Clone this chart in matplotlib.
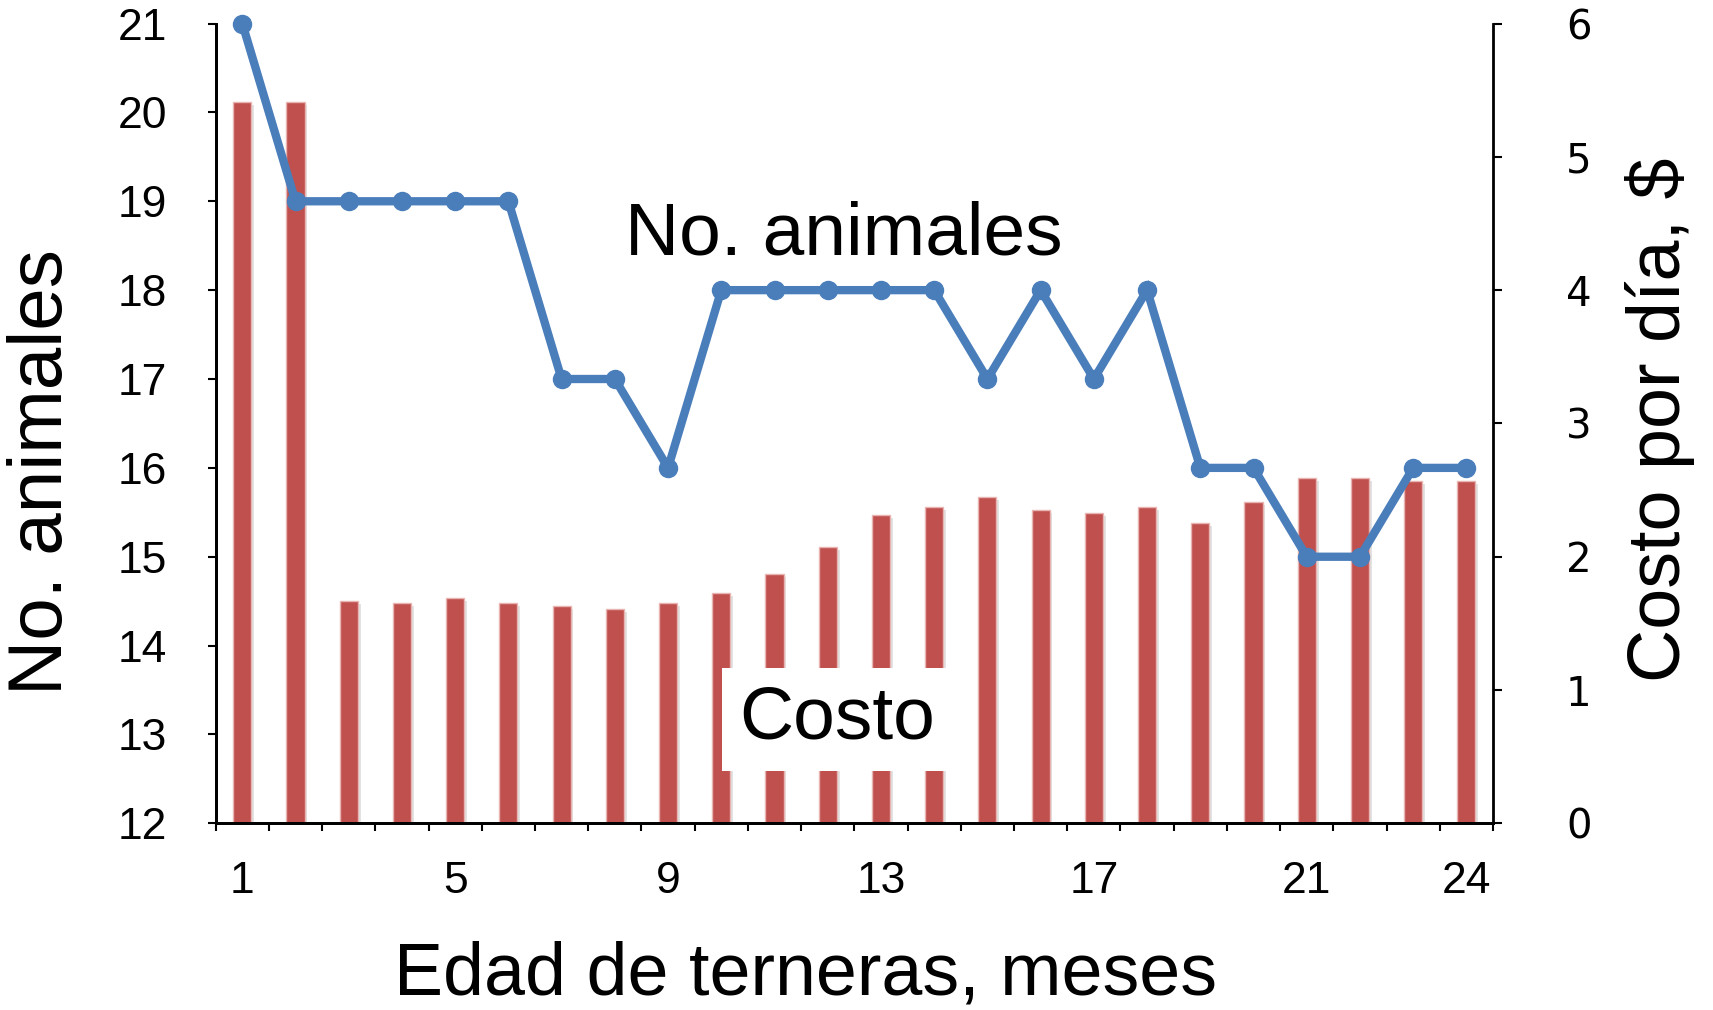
import numpy as np
import matplotlib
matplotlib.use("Agg")
import matplotlib.pyplot as plt
import matplotlib.patheffects as pe

# datos
meses = np.arange(1, 25)
animales = [21, 19, 19, 19, 19, 19, 17, 17, 16, 18, 18, 18,
            18, 18, 17, 18, 17, 18, 16, 16, 15, 15, 16, 16]
costo = [5.41, 5.41, 1.67, 1.65, 1.69, 1.65, 1.63, 1.61, 1.65, 1.73, 1.87, 2.07,
         2.31, 2.37, 2.45, 2.35, 2.33, 2.37, 2.25, 2.41, 2.59, 2.59, 2.57, 2.57]
xt = [1, 5, 9, 13, 17, 21, 24]

plt.rcParams['font.family'] = ['Liberation Sans', 'DejaVu Sans']

fig = plt.figure(figsize=(17.13, 10.10), dpi=100)
ax = fig.add_axes([0.1259, 0.1848, 0.8716 - 0.1259, 0.9767 - 0.1848])
ax2 = ax.twinx()

# barras (eje derecho)
bars = ax2.bar(meses, costo, width=0.34, color='#C0504D', edgecolor='#E8B4B2',
               linewidth=1, zorder=2)
for b in bars:
    b.set_path_effects([pe.SimplePatchShadow(offset=(2, -2), shadow_rgbFace='gray', alpha=0.22),
                        pe.Normal()])
ax2.set_ylim(0, 6)
ax2.set_yticks(range(0, 7))
ax2.tick_params(axis='y', direction='out', length=6.5, width=1.5, pad=46,
                labelsize=29, labelfontfamily='DejaVu Sans')

# linea (eje izquierdo)
ax.set_zorder(ax2.get_zorder() + 1)
ax.patch.set_visible(False)
ax.plot(meses, animales, color='#4A7EBB', lw=6, marker='o', ms=13,
        solid_joinstyle='miter', zorder=3, clip_on=False)
ax.set_ylim(12, 21)
ax.set_yticks(range(12, 22))
ax.set_xlim(0.5, 24.5)
ax.set_xticks(xt)
ax.set_xticks(np.arange(0.5, 25, 1), minor=True)
ax.tick_params(axis='x', which='major', length=0, pad=27, labelsize=32)
ax.tick_params(axis='x', which='minor', direction='out', length=6, width=1.5)
ax.tick_params(axis='y', direction='out', length=6, width=1.5, pad=29, labelsize=32)

for a in (ax, ax2):
    a.spines['top'].set_visible(False)
    for s in ('left', 'right', 'bottom'):
        a.spines[s].set_linewidth(2)
ax.spines['right'].set_visible(False)

ax.text(8.2, 18.4, 'No. animales', fontsize=54, ha='left', va='baseline')
ax.text(10.33, 12.95, 'Costo', fontsize=54, ha='left', va='baseline', zorder=5,
        bbox=dict(fc='white', ec='none', boxstyle='square,pad=0.23'))

fig.text(43 / 1713, 1 - 472 / 1010, 'No. animales', fontsize=55, rotation=90,
         ha='center', va='center')
fig.text(1660 / 1713, 1 - 420 / 1010, 'Costo por día, $', fontsize=53, rotation=90,
         ha='center', va='center')
fig.text(805 / 1713, 1 - 994 / 1010, 'Edad de terneras, meses', fontsize=53,
         ha='center', va='baseline')

fig.savefig('out.png', dpi=100)
